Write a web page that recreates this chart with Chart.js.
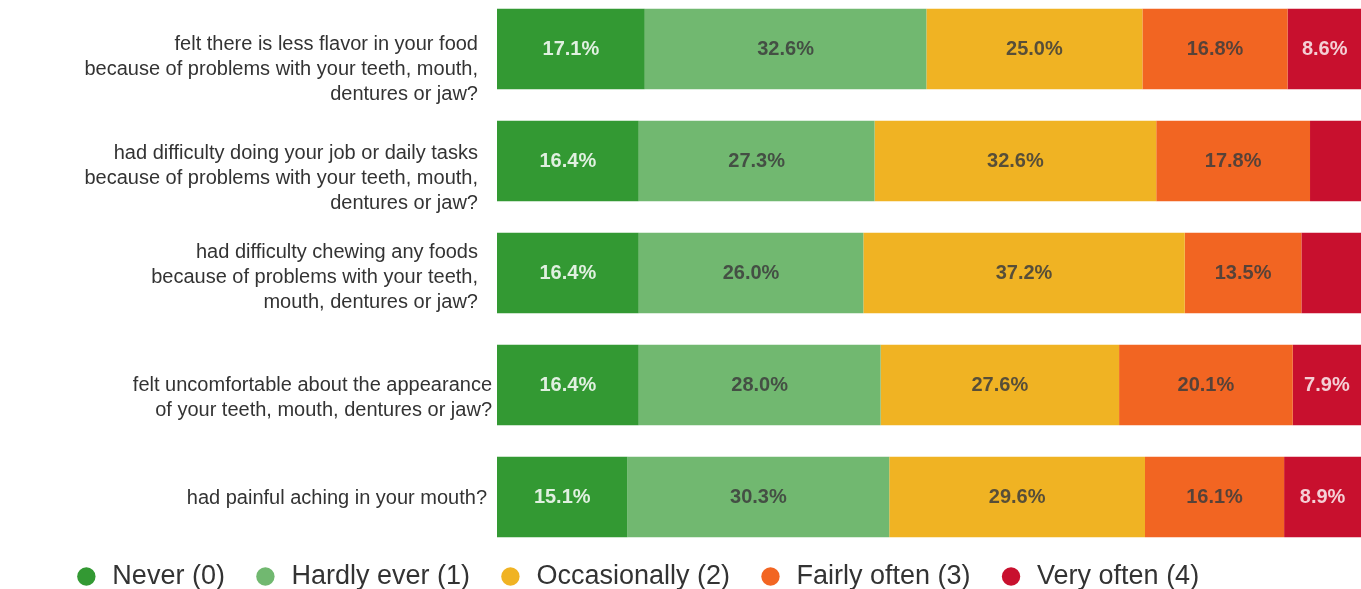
<!DOCTYPE html>
<html>
<head>
<meta charset="utf-8">
<script src="https://cdn.jsdelivr.net/npm/chart.js@4/dist/chart.umd.min.js"></script>
<style>
  html, body { margin: 0; padding: 0; background: #ffffff; }
  #wrap { width: 1361px; height: 589px; }
</style>
</head>
<body>
<div id="wrap"><canvas id="c" width="1361" height="589"></canvas></div>
<script>
// ---- Data ----
const categories = [
  ["felt there is less flavor in your food", "because of problems with your teeth, mouth,", "dentures or jaw?"],
  ["had difficulty doing your job or daily tasks", "because of problems with your teeth, mouth,", "dentures or jaw?"],
  ["had difficulty chewing any foods", "because of problems with your teeth,", "mouth, dentures or jaw?"],
  ["felt uncomfortable about the appearance", "of your teeth, mouth, dentures or jaw?"],
  ["had painful aching in your mouth?"]
];
const seriesNames = ["Never (0)", "Hardly ever (1)", "Occasionally (2)", "Fairly often (3)", "Very often (4)"];
const never        = [17.1, 16.4, 16.4, 16.4, 15.1];
const hardlyEver   = [32.6, 27.3, 26.0, 28.0, 30.3];
const occasionally = [25.0, 32.6, 37.2, 27.6, 29.6];
const fairlyOften  = [16.8, 17.8, 13.5, 20.1, 16.1];
const veryOften    = [8.6, 5.9, 6.9, 7.9, 8.9];

// ---- Styles ----
const colors = ["#339933", "#71b870", "#f0b323", "#f26522", "#c8102e"];
const labelColors = ["rgba(255,255,255,0.85)", "rgba(60,60,60,0.85)", "rgba(60,60,60,0.85)", "rgba(60,60,60,0.85)", "rgba(255,255,255,0.8)"];
const allSeries = [never, hardlyEver, occasionally, fairlyOften, veryOften];
// visual fine-tuning of category label placement, as in the original
const trailing = ["\u2002\u2009", "\u2002\u2009", "\u2002\u2009", "", "\u2005"];
const labelNudge = [20, 17, 4, 13, 1];

const barLabels = {
  id: 'barLabels',
  afterDatasetsDraw(chart) {
    const ctx = chart.ctx;
    ctx.save();
    ctx.font = "bold 20px 'Liberation Sans', Arial, sans-serif";
    ctx.textAlign = 'center';
    ctx.textBaseline = 'middle';
    chart.data.datasets.forEach((ds, di) => {
      const meta = chart.getDatasetMeta(di);
      meta.data.forEach((el, i) => {
        const v = ds.data[i];
        if (v < 7) return;
        const cx = (el.x + el.base) / 2;
        ctx.fillStyle = labelColors[di];
        ctx.fillText(v.toFixed(1) + '%', cx, el.y);
      });
    });
    ctx.restore();
  }
};

// Fine placement of plot band, tick labels and legend to match the original
const placement = {
  id: 'placement',
  afterLayout(chart) {
    const y = chart.scales.y;
    const top = -7, bottom = 553;
    y.top = top; y.bottom = bottom; y.height = bottom - top;
    y.configure();
    const ca = chart.chartArea;
    ca.top = top; ca.bottom = bottom; ca.height = bottom - top;
    const lg = chart.legend;
    if (lg) {
      const h = lg.height;
      lg.top = 535; lg.bottom = 535 + h;
      lg.left -= 44; lg.right -= 44;
    }
  },
  beforeDraw(chart) {
    const y = chart.scales.y;
    const items = y.getLabelItems(chart.chartArea);
    if (items && !items._nudged) {
      items.forEach((it, i) => {
        if (it.options && it.options.translation) it.options.translation[1] += (labelNudge[i] || 0);
      });
      items._nudged = true;
    }
  }
};

new Chart(document.getElementById('c'), {
  type: 'bar',
  data: {
    labels: categories,
    datasets: allSeries.map((d, i) => ({
      label: seriesNames[i],
      data: d,
      backgroundColor: colors[i],
      borderWidth: 0,
      categoryPercentage: 1,
      barPercentage: 0.72
    }))
  },
  options: {
    indexAxis: 'y',
    responsive: false,
    devicePixelRatio: 1,
    animation: false,
    layout: { padding: { top: 0, bottom: -30, left: 0, right: 0 } },
    scales: {
      x: { stacked: true, min: 0, max: 100, display: false },
      y: {
        stacked: true,
        grid: { display: false, drawTicks: false },
        border: { display: false },
        afterFit(scale) { scale.width = 497; },
        ticks: {
          padding: 5,
          color: '#333333',
          font: { family: "'Liberation Sans', Arial, sans-serif", size: 20, lineHeight: 1.25 },
          callback(value, index) {
            return categories[index].map(l => l + trailing[index]);
          }
        }
      }
    },
    plugins: {
      tooltip: { enabled: false },
      legend: {
        position: 'bottom',
        labels: {
          usePointStyle: true,
          pointStyle: 'circle',
          boxWidth: 25,
          boxHeight: 13,
          padding: 28,
          color: '#333333',
          font: { family: "'Liberation Sans', Arial, sans-serif", size: 27 }
        }
      }
    }
  },
  plugins: [barLabels, placement]
});
</script>
</body>
</html>
